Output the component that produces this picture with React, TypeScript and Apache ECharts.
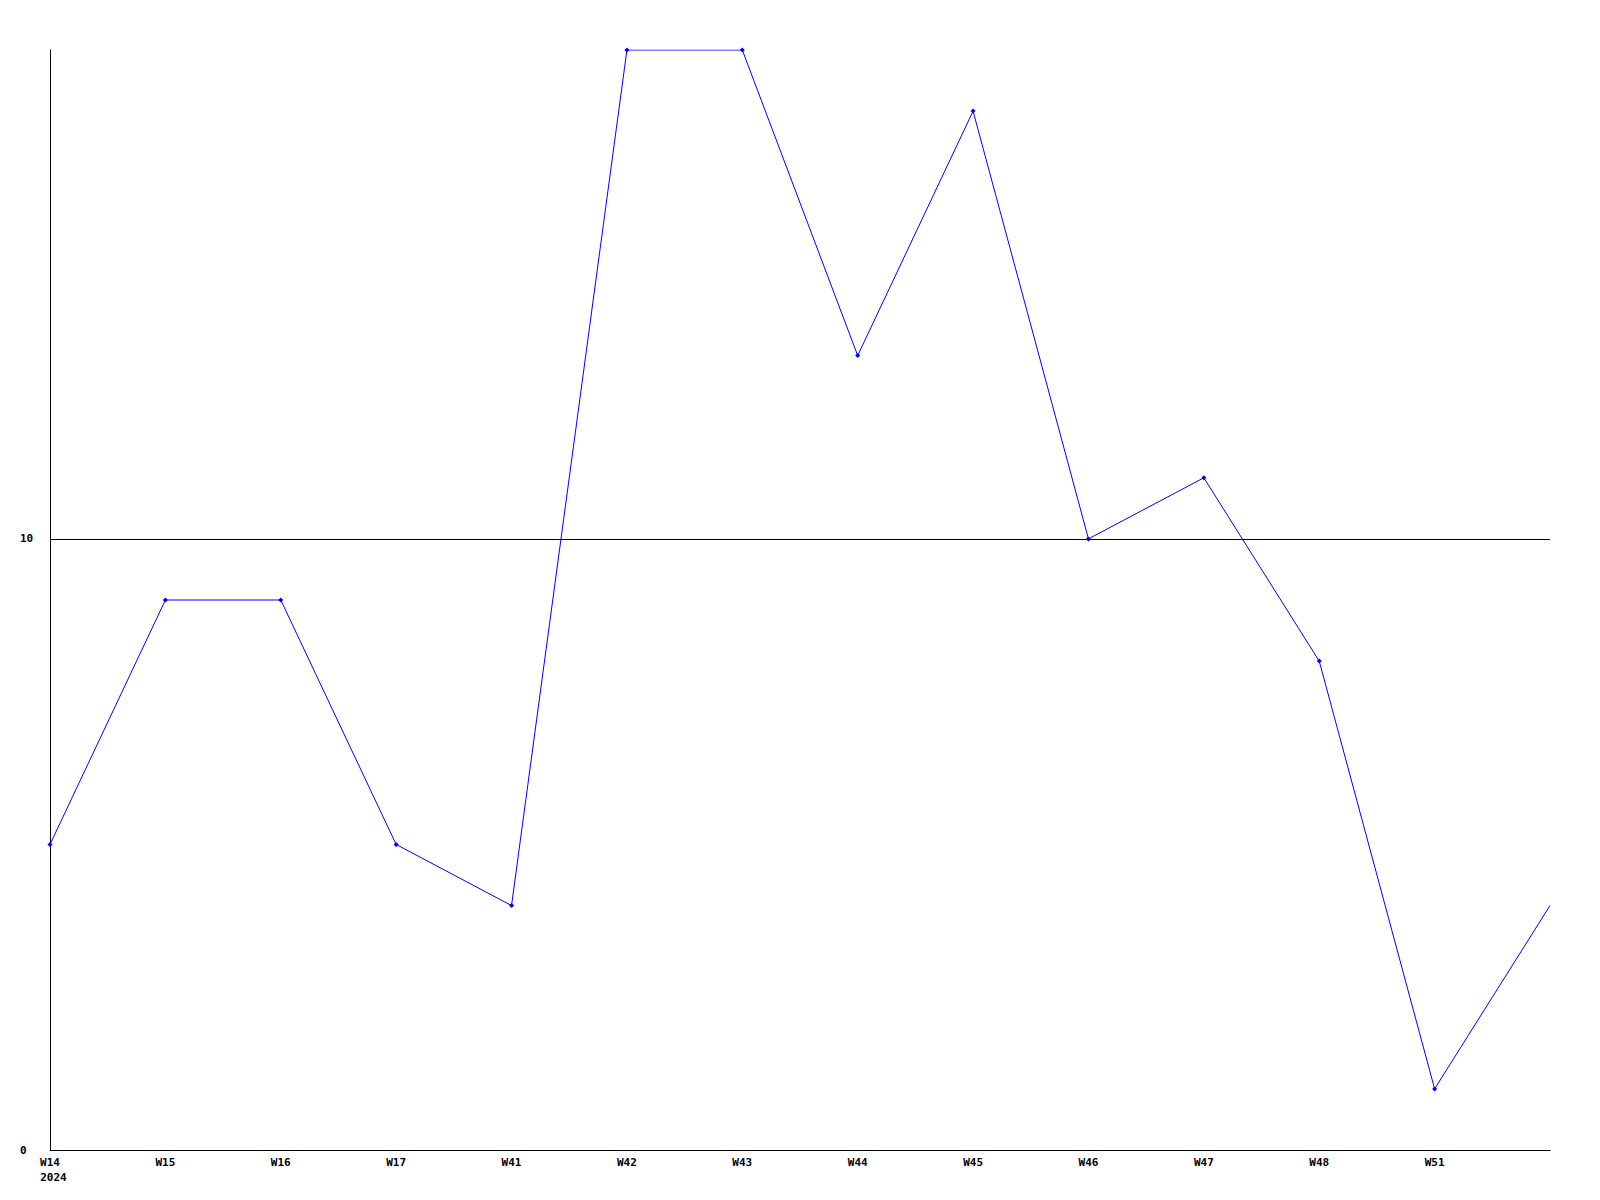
import React, { useEffect, useRef } from "react";
import * as echarts from "echarts";

const categories = ["W14", "W15", "W16", "W17", "W41", "W42", "W43", "W44", "W45", "W46", "W47", "W48", "W51", ""];
const values = [5, 9, 9, 5, 4, 18, 18, 13, 17, 10, 11, 8, 1, 4];
const yearLabel = "2024";
const yMin = 0;
const yMax = 18;
const yInterval = 10;
const refLine = 10;

export default function App() {
  const ref = useRef<HTMLDivElement>(null);
  useEffect(() => {
    if (!ref.current) return;
    const chart = echarts.init(ref.current, null, { renderer: "svg" });
    const font = "DejaVu Sans Mono";
    const lastIdx = values.length - 1;
    chart.setOption({
      animation: false,
      backgroundColor: "#ffffff",
      grid: { left: 50, right: 50, top: 50, bottom: 50, containLabel: false },
      xAxis: {
        type: "category",
        data: categories,
        boundaryGap: false,
        axisLine: { show: true, lineStyle: { color: "#000", width: 1 } },
        axisTick: { show: false },
        splitLine: { show: false },
        axisLabel: {
          interval: 0,
          margin: 5,
          color: "#000",
          fontFamily: font,
          fontWeight: "bold",
          fontSize: 11,
          lineHeight: 15,
          formatter: (v: string, i: number) =>
            i === 0 ? `{a|${v}}\n{b|${yearLabel}}` : v,
          rich: {
            a: { fontFamily: font, fontWeight: "bold", fontSize: 11, color: "#000", lineHeight: 15 },
            b: { fontFamily: font, fontWeight: "bold", fontSize: 11, color: "#000", lineHeight: 15, padding: [0, 0, 0, 7] },
          },
        },
      },
      yAxis: {
        type: "value",
        min: yMin,
        max: yMax,
        interval: yInterval,
        axisLine: { show: true, lineStyle: { color: "#000", width: 1 } },
        axisTick: { show: false },
        splitLine: { show: false },
        axisLabel: {
          margin: 30,
          align: "left",
          color: "#000",
          fontFamily: font,
          fontWeight: "bold",
          fontSize: 11,
          showMaxLabel: false,
          formatter: (v: number) => (v === yMax ? "" : String(v)),
        },
      },
      series: [
        {
          type: "line",
          data: values.map((v, i) => (i === lastIdx ? { value: v, symbol: "none" } : v)),
          symbol: "diamond",
          symbolSize: 5,
          showAllSymbol: true,
          itemStyle: { color: "#0000ff" },
          lineStyle: { color: "#0000ff", width: 1 },
          clip: true,
          markLine: {
            silent: true,
            symbol: "none",
            label: { show: false },
            lineStyle: { color: "#000", width: 1, type: "solid" },
            data: [{ yAxis: refLine }],
          },
        },
      ],
    });
    return () => chart.dispose();
  }, []);
  return (
    <div
      ref={ref}
      style={{ position: "absolute", left: 0, top: 0, width: 1600, height: 1200 }}
    />
  );
}
